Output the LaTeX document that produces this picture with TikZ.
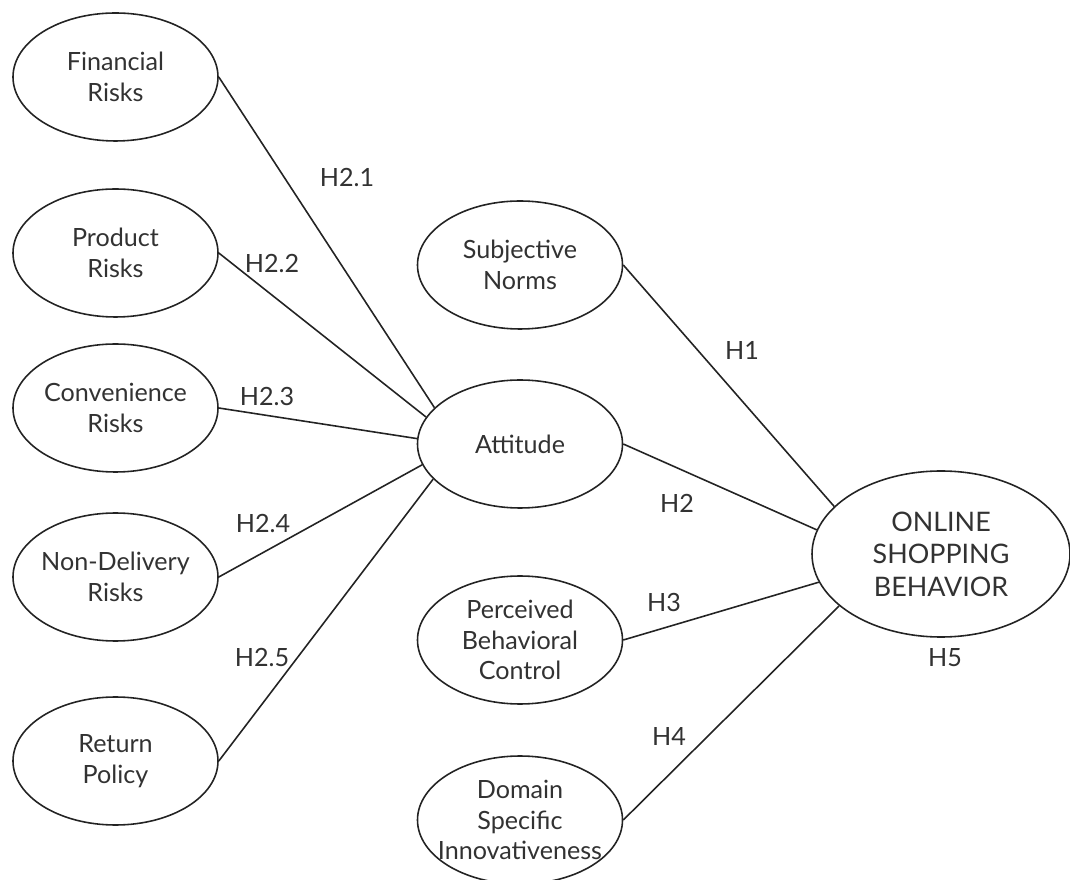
\documentclass[tikz,border=0pt]{standalone}
\usepackage{fontspec}
\setmainfont{Lato}
\usetikzlibrary{shapes.geometric}
\definecolor{inkgray}{RGB}{35,35,35}
\definecolor{txtgray}{RGB}{50,50,50}

\begin{document}
\begin{tikzpicture}[
  construct/.style={ellipse, draw=inkgray, line width=0.9pt, text=txtgray,
        minimum width=4.1cm, minimum height=2.56cm, inner xsep=-5mm,
        inner ysep=0pt, align=center, font=\fontsize{14.3}{17.5}\selectfont},
  hyp/.style={text=txtgray, font=\fontsize{14.3}{17.5}\selectfont},
  link/.style={draw=inkgray, line width=0.9pt}]
  \useasboundingbox (0,0) rectangle (21.4,17.58);

  % Left column: perceived risks
  \node[construct] (fin) at (2.31,16.04) {Financial\\Risks};
  \node[construct] (prod) at (2.31,12.52) {Product\\Risks};
  \node[construct] (conv) at (2.31,9.42) {Convenience\\Risks};
  \node[construct] (nondel) at (2.31,6.04) {Non-Delivery\\Risks};
  \node[construct] (ret) at (2.31,2.36) {Return\\Policy};

  % Middle column
  \node[construct] (subj) at (10.4,12.28) {Subjective\\Norms};
  \node[construct] (att) at (10.4,8.7) {Attitude};
  \node[construct] (pbc) at (10.4,4.78) {Perceived\\Behavioral\\Control};
  \node[construct] (dsi) at (10.4,1.18) {Domain\\Specific\\Innovativeness};

  % Outcome
  \node[construct, minimum width=5.16cm, minimum height=3.32cm,
        font=\fontsize{15.3}{18.5}\selectfont]
    (osb) at (18.82,6.5) {ONLINE\\SHOPPING\\BEHAVIOR};

  % Risks -> attitude
  \draw[link] (fin.east) -- (att.157);
  \draw[link] (prod.east) -- (att.164);
  \draw[link] (conv.east) -- (att.177);
  \draw[link] (nondel.east) -- (att.192);
  \draw[link] (ret.east) -- (att.202);

  % Predictors -> behavior
  \draw[link] (subj.east) -- (osb.156);
  \draw[link] (att.east) -- (osb.169);
  \draw[link] (pbc.east) -- (osb.193);
  \draw[link] (dsi.east) -- (osb.207);

  % Hypothesis labels
  \node[hyp] (h21) at (6.94,14.02) {H2.1};
  \node[hyp] (h22) at (5.44,12.32) {H2.2};
  \node[hyp] (h23) at (5.34,9.64) {H2.3};
  \node[hyp] (h24) at (5.26,7.12) {H2.4};
  \node[hyp] (h25) at (5.24,4.44) {H2.5};
  \node[hyp] (h1) at (14.84,10.58) {H1};
  \node[hyp] (h2) at (13.54,7.52) {H2};
  \node[hyp] (h3) at (13.28,5.54) {H3};
  \node[hyp] (h4) at (13.38,2.86) {H4};
  \node[hyp] (h5) at (18.9,4.42) {H5};
\end{tikzpicture}
\end{document}
